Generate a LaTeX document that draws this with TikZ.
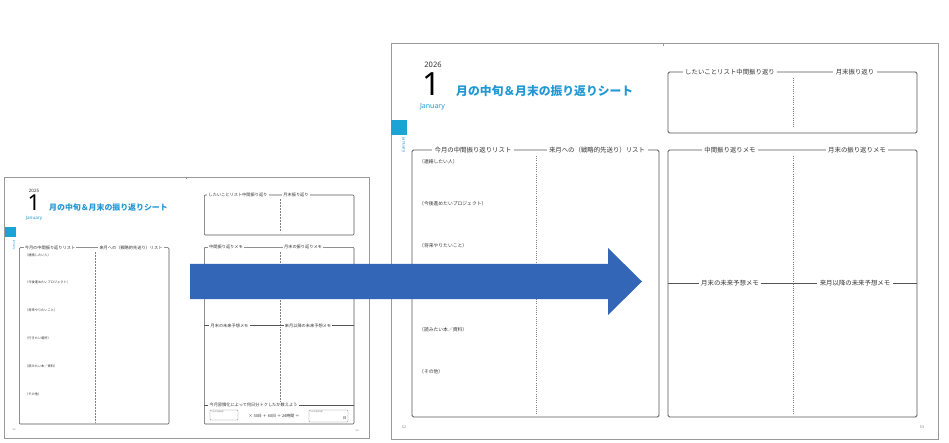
\documentclass[tikz,border=0pt]{standalone}
\usepackage{fontspec}
\setmainfont{Noto Sans CJK JP}
\newfontfamily\latn{Noto Sans}
\definecolor{pageframe}{HTML}{9A9A9A}
\definecolor{boxline}{HTML}{555555}
\definecolor{tabblue}{HTML}{1CA3D6}
\definecolor{titleblue}{HTML}{2298D4}
\definecolor{arrowblue}{HTML}{3466B8}
\definecolor{txtgray}{HTML}{333333}
\newcommand{\fs}[1]{\fontsize{#1}{#1}\selectfont}
\begin{document}
\begin{tikzpicture}[x=1pt,y=-1pt,
  pageframe/.style={draw=pageframe, line width=0.8pt},
  listbox/.style={draw=boxline, line width=0.8pt, rounded corners=1.5pt},
  slistbox/.style={draw=boxline, line width=0.55pt, rounded corners=1pt},
  divider/.style={draw=gray, line width=0.6pt, dash pattern=on 0.6pt off 1.6pt},
  sdivider/.style={draw=gray, line width=0.4pt, dash pattern=on 0.4pt off 1.1pt},
  bighead/.style={fill=white, inner sep=2.5pt, font=\fs{6.4}, text=txtgray},
  smallhead/.style={fill=white, inner sep=1.2pt, font=\fs{4.2}, text=txtgray},
  bigitem/.style={anchor=west, inner sep=0pt, font=\fs{4.8}, text=txtgray},
  smallitem/.style={anchor=west, inner sep=0pt, font=\fs{3.2}, text=txtgray},
  pagenum/.style={inner sep=0pt, text=gray},
  calcbox/.style={draw=gray, line width=0.4pt, rounded corners=0.8pt},
  tinylabel/.style={anchor=north west, inner sep=0.6pt, font=\fs{1.8}, text=gray}
]
\useasboundingbox (0,0) rectangle (949,443);
\fill[white] (0,0) rectangle (949,443);

% ================= small spread (before) =================
\draw[pageframe] (4,177) rectangle (369,438);
\draw[pageframe] (186.5,177) -- (186.5,179.5);
\node[inner sep=0pt, font=\latn\fs{4.5}, text=txtgray] (syear) at (34,190.5) {2025};
\node[anchor=base, inner sep=0pt, font=\latn\fs{22}] (smonth) at (34,211) {1};
\node[inner sep=0pt, font=\latn\fs{4.6}, text=titleblue] (sjan) at (34,218.5) {January};
\node[anchor=west, inner sep=0pt, font=\bfseries\fs{7.9}, text=titleblue] (stitle) at (49,208) {月の中旬＆月末の振り返りシート};
\fill[tabblue] (5,227) rectangle (16,237);
\node[rotate=-90, inner sep=0pt, font=\latn\fs{2.8}, text=titleblue] (svjan) at (14,245) {January};

% small left page list box
\draw[slistbox] (19.3,247.7) rectangle (169,424);
\draw[sdivider] (94.7,252) -- (94.7,423);
\node[smallhead] (sh1) at (50,247.7) {今月の中間振り返りリスト};
\node[smallhead] (sh2) at (131,247.7) {来月への（戦略的先送り）リスト};
\node[smallitem] (si1) at (25,255) {（連絡したい人）};
\node[smallitem] (si2) at (25,282.7) {（今後進めたいプロジェクト）};
\node[smallitem] (si3) at (25,310.7) {（将来やりたいこと）};
\node[smallitem] (si4) at (25,338.3) {（行きたい場所）};
\node[smallitem] (si5) at (25,366.7) {（読みたい本／資料）};
\node[smallitem] (si6) at (25,394.3) {（その他）};
\node[pagenum, font=\latn\fs{2.5}] (spn1) at (14,430) {52};

% small right page top box
\draw[slistbox] (204.3,195) rectangle (354,235);
\draw[sdivider] (279.7,199) -- (279.7,232);
\node[smallhead] (srh1) at (238,195) {したいことリスト中間振り返り};
\node[smallhead] (srh2) at (296,195) {月末振り返り};

% small right page bottom box
\draw[slistbox] (204.3,247.3) rectangle (354,424);
\draw[sdivider] (279.7,252) -- (279.7,403);
\node[smallhead] (srh3) at (226,247.3) {中間振り返りメモ};
\node[smallhead] (srh4) at (303,247.3) {月末の振り返りメモ};
\draw[boxline, line width=0.55pt] (204.3,325.7) -- (354,325.7);
\node[smallhead] (srh5) at (229.5,325.7) {月末の未来予想メモ};
\node[smallhead] (srh6) at (308,325.7) {来月以降の未来予想メモ};
\draw[boxline, line width=0.55pt] (204.3,405.3) -- (354,405.3);
\node[smallhead] (srh7) at (253.5,405.3) {今月習慣化によって何日分トクしたか数えよう};
\draw[calcbox] (210,410) rectangle (238,420);
\node[tinylabel] (scl1) at (210.3,410.3) {今月の短縮時間};
\node[inner sep=0pt, font=\fs{4}, text=txtgray] (scalc) at (274,416) {× 30日 ＋ 60日 ＋ 24時間 ＝};
\draw[calcbox] (309,410) rectangle (348,422);
\node[tinylabel] (scl2) at (309.3,410.3) {今月の獲得日数};
\node[inner sep=0pt, font=\fs{3.5}, text=txtgray] (sday) at (344.5,418) {日};
\node[pagenum, font=\latn\fs{2.5}] (spn2) at (357,431) {53};

% ================= large spread (after) =================
\draw[pageframe] (391,43) rectangle (938,439);
\draw[pageframe] (663,43) -- (663,46.5);
\node[inner sep=0pt, font=\latn\fs{7.5}, text=txtgray] (year) at (433,64.5) {2026};
\node[anchor=base, inner sep=0pt, font=\latn\fs{32}] (month) at (431.5,95.5) {1};
\node[inner sep=0pt, font=\latn\fs{7}, text=titleblue] (jan) at (432.5,106.5) {January};
\node[anchor=west, inner sep=0pt, font=\bfseries\fs{11.8}, text=titleblue] (title) at (456,91) {月の中旬＆月末の振り返りシート};
\fill[tabblue] (391,120) rectangle (407,135);
\node[rotate=-90, inner sep=0pt, font=\latn\fs{4.2}, text=titleblue] (vjan) at (403.5,145) {January};

% large left page list box
\draw[listbox] (412,150) rectangle (659,417);
\draw[divider] (536,156) -- (536,415);
\node[bighead] (h1) at (473,150) {今月の中間振り返りリスト};
\node[bighead] (h2) at (597,150) {来月への（戦略的先送り）リスト};
\node[bigitem] (i1) at (419,162) {（連絡したい人）};
\node[bigitem] (i2) at (419,204) {（今後進めたいプロジェクト）};
\node[bigitem] (i3) at (419,246) {（将来やりたいこと）};
\node[bigitem] (i5) at (419,330) {（読みたい本／資料）};
\node[bigitem] (i6) at (419,372) {（その他）};
\node[pagenum, font=\latn\fs{3.6}] (pn1) at (404,427) {52};

% large right page top box
\draw[listbox] (668,72) rectangle (917,133);
\draw[divider] (793,78) -- (793,128);
\node[bighead] (rh1) at (730,72) {したいことリスト中間振り返り};
\node[bighead] (rh2) at (855,72) {月末振り返り};

% large right page bottom box
\draw[listbox] (668,150) rectangle (917,417);
\draw[divider] (793,156) -- (793,414);
\node[bighead] (rh3) at (730,150) {中間振り返りメモ};
\node[bighead] (rh4) at (857,150) {月末の振り返りメモ};
\draw[boxline, line width=0.8pt] (668,283) -- (917,283);
\node[bighead] (rh5) at (730,283) {月末の未来予想メモ};
\node[bighead] (rh6) at (855,283) {来月以降の未来予想メモ};
\node[pagenum, font=\latn\fs{3.6}] (pn2) at (922,427) {53};

% ================= big arrow =================
\fill[arrowblue] (190,264) -- (608,264) -- (608,248) -- (642,281.5)
  -- (608,315) -- (608,299) -- (190,299) -- cycle;
\end{tikzpicture}
\end{document}
